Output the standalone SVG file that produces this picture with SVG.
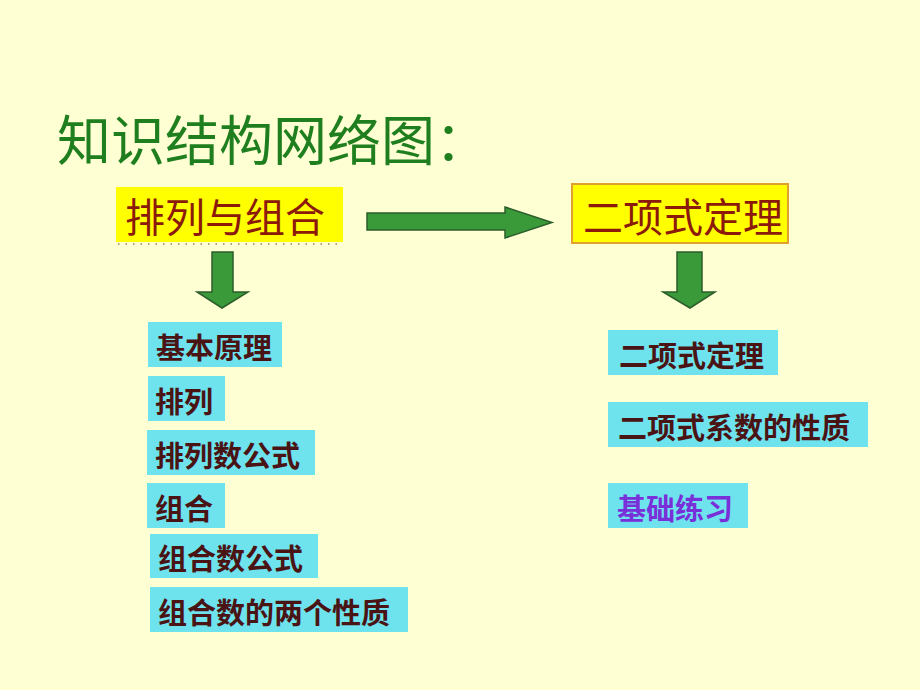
<svg xmlns="http://www.w3.org/2000/svg" width="920" height="690" viewBox="0 0 920 690">
<defs>
<style>
.bg{fill:#FFFFD4}
.title{font-family:"Noto Sans CJK SC","Noto Sans CJK JP",sans-serif;font-size:54px;fill:#1F7F1F}
.main{font-family:"Noto Sans CJK SC","Noto Sans CJK JP",sans-serif;font-size:40px;fill:#8B1A0A}
.item{font-family:"Noto Sans CJK SC","Noto Sans CJK JP",sans-serif;font-size:29px;font-weight:bold;fill:#4A1414}
.cyan{fill:#6EE3EE}
.yel{fill:#FFFF00}
.arrow{fill:#3A9A3A;stroke:#2B5E2B;stroke-width:1.5;stroke-linejoin:miter}
</style>
</defs>
<rect class="bg" x="0" y="0" width="920" height="690"/>
<g id="title"><text class="title" x="57" y="161">知识结构网络图：</text></g>

<g id="node-pailie-zuhe">
<rect class="yel" x="116" y="187" width="227" height="55"/>
<line x1="118" y1="244" x2="342" y2="244" stroke="#A08060" stroke-width="1.5" stroke-dasharray="1.5,6"/>
<text class="main" x="125" y="232">排列与组合</text>
</g>
<g id="node-erxiangshi">
<rect class="yel" x="572" y="184" width="216" height="59" stroke="#E0A030" stroke-width="2"/>
<text class="main" x="583" y="232">二项式定理</text>
</g>

<g id="connectors">
<polygon class="arrow" points="367,213 505,213 505,207 552,222.5 505,238 505,230 367,230"/>
<polygon class="arrow" points="212,252 233,252 233,292 248,292 222,308 197,292 212,292"/>
<polygon class="arrow" points="677,252 702,252 702,292 715,292 690,308 663,292 677,292"/>
</g>

<g id="item-jiben"><rect class="cyan" x="148" y="322" width="134" height="45"/><text class="item" x="156" y="359">基本原理</text></g>
<g id="item-pailie"><rect class="cyan" x="148" y="376" width="77" height="45"/><text class="item" x="155" y="413">排列</text></g>
<g id="item-pailieshu"><rect class="cyan" x="147" y="430" width="168" height="45"/><text class="item" x="155" y="467">排列数公式</text></g>
<g id="item-zuhe"><rect class="cyan" x="147" y="483" width="78" height="45"/><text class="item" x="155" y="520">组合</text></g>
<g id="item-zuheshu"><rect class="cyan" x="150" y="534" width="168" height="44"/><text class="item" x="158" y="570">组合数公式</text></g>
<g id="item-zuhexingzhi"><rect class="cyan" x="150" y="587" width="258" height="45"/><text class="item" x="158" y="624">组合数的两个性质</text></g>

<g id="item-dingli"><rect class="cyan" x="608" y="330" width="170" height="45"/><text class="item" x="619" y="367">二项式定理</text></g>
<g id="item-xishu"><rect class="cyan" x="608" y="402" width="260" height="45"/><text class="item" x="618" y="439">二项式系数的性质</text></g>
<g id="item-lianxi"><rect class="cyan" x="608" y="483" width="140" height="45"/><text class="item" x="617" y="520" style="fill:#7A30D8">基础练习</text></g>
</svg>
